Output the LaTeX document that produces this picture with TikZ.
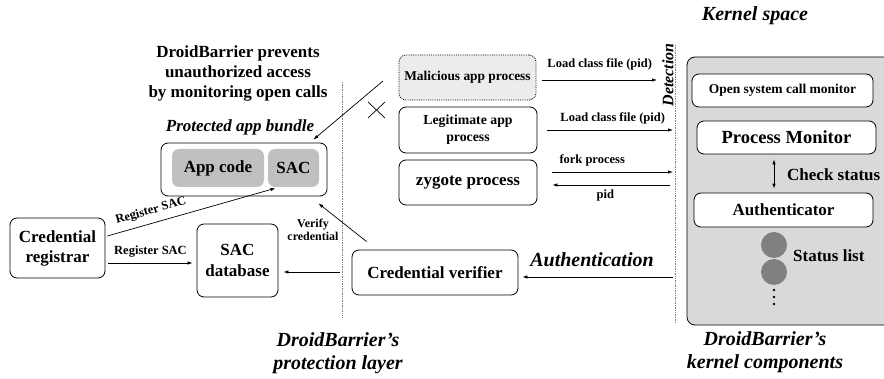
\documentclass[tikz,border=0pt]{standalone}
\usepackage{fontspec}
\setmainfont{Liberation Serif}
\usetikzlibrary{arrows.meta}
\definecolor{kernelgray}{RGB}{217,217,217}
\definecolor{codegray}{RGB}{192,192,192}
\definecolor{malgray}{RGB}{236,236,236}
\definecolor{statgray}{RGB}{128,128,128}
\newcommand{\pxsize}[1]{\fontsize{#1}{#1}\selectfont}

\begin{document}
\begin{tikzpicture}[x=1pt,y=-1pt,>={Latex[length=5pt,width=3.5pt]}]
\tikzstyle{every node}+=[inner sep=0pt]
\tikzstyle{box}=[draw=black, line width=0.8pt, rounded corners=7pt, align=center, font=\bfseries\pxsize{17}]
\tikzstyle{graybox}=[fill=codegray, rounded corners=7pt, align=center, font=\bfseries\pxsize{17}]
\tikzstyle{lbl}=[font=\bfseries\pxsize{12.5}, align=center]
\tikzstyle{title}=[font=\bfseries\itshape\pxsize{20}, align=center]
\tikzstyle{conn}=[->, line width=0.7pt]
\useasboundingbox (0,0) rectangle (884,379);
% separators
\draw [densely dotted, gray, line width=0.7pt] (342,82) -- (342,317);
\draw [densely dotted, gray, line width=0.7pt] (675,45) -- (675,323);
% protection layer side
\node [font=\bfseries\fontsize{17}{20}\selectfont, align=center] (prevents) at (238,73) {DroidBarrier prevents\\unauthorized access\\by monitoring open calls};
\node [font=\bfseries\itshape\pxsize{17}] (bundletitle) at (240,127) {Protected app bundle};
\node [box, minimum width=166, minimum height=53] (bundle) at (244,169.5) {};
\node [graybox, minimum width=92, minimum height=38] (appcode) at (218,168) {App code};
\node [graybox, minimum width=51, minimum height=38] (sac) at (293.5,168) {SAC};
\node [box, minimum width=95, minimum height=60, font=\bfseries\fontsize{17}{20}\selectfont] (registrar) at (57.5,248) {Credential\\registrar};
\node [box, minimum width=81, minimum height=73, font=\bfseries\fontsize{17}{21}\selectfont] (sacdb) at (237.5,260.5) {SAC\\database};
\node [box, minimum width=166, minimum height=45] (verifier) at (435,272.5) {Credential verifier};
\node [title, font=\bfseries\itshape\fontsize{20}{23}\selectfont] (prottitle) at (338,353) {DroidBarrier's\\protection layer};
% app processes
\node [box, densely dotted, fill=malgray, minimum width=137, minimum height=45, font=\bfseries\pxsize{13.4}] (malicious) at (467.5,77.5) {Malicious app process};
\node [box, minimum width=138, minimum height=46, font=\bfseries\fontsize{13.8}{17}\selectfont] (legit) at (468,130) {Legitimate app\\process};
\node [box, minimum width=138, minimum height=45] (zygote) at (468,182.5) {zygote process};
\draw [line width=0.7pt] (368,102) -- (385,118);
\draw [line width=0.7pt] (385,102) -- (368,118);
% kernel side
\node [title] (kerneltitle) at (755,16) {Kernel space};
\node [font=\bfseries\itshape\pxsize{16}, rotate=90] (detection) at (668,75) {Detection};
\draw [fill=kernelgray, line width=0.8pt, rounded corners=8pt] (687,57) rectangle (900,325);
\node [box, fill=white, minimum width=181, minimum height=33, font=\bfseries\pxsize{13.5}] (oscmon) at (782.5,90.5) {Open system call monitor};
\node [box, fill=white, minimum width=179, minimum height=33, font=\bfseries\pxsize{18.5}] (procmon) at (786.5,137.5) {Process Monitor};
\node [box, fill=white, minimum width=179, minimum height=34] (auth) at (783.5,210) {Authenticator};
\node [circle, fill=statgray, minimum size=26] (stat1) at (774,245) {};
\node [circle, fill=statgray, minimum size=26] (stat2) at (774,272) {};
\foreach \y in {290,297,304}
  \fill (774,\y) circle (1.4);
\node [font=\bfseries\pxsize{17}, anchor=west] (statlist) at (793,256) {Status list};
\node [font=\bfseries\pxsize{17}, anchor=west] (check) at (787,175) {Check status};
\node [title, font=\bfseries\itshape\fontsize{20}{23}\selectfont] (kertitle) at (765,352) {DroidBarrier's\\kernel components};
\node [title] (authlbl) at (592,260) {Authentication};
% free ends at the layer borders
\coordinate (malstart) at (383,81);
\coordinate (malend) at (657,80);
\coordinate (legend) at (673,130);
\coordinate (forkend) at (673,172);
\coordinate (pidstart) at (670,185);
\coordinate (authstart) at (673,277);
\coordinate (dbstart) at (340,272);
% connectors
\draw [conn] ([xshift=6pt,yshift=-2.5pt]malicious.east) -- (malend) node [lbl, midway, above=9pt] {Load class file (pid)};
\draw [conn] ([xshift=10pt]legit.east) -- (legend) node [lbl, pos=0.52, above=5pt] {Load class file (pid)};
\draw [conn] ([xshift=15pt,yshift=10.5pt]zygote.east) -- (forkend) node [lbl, pos=0.33, above=5pt] {fork process};
\draw [conn] (pidstart) -- ([xshift=15pt,yshift=-2.5pt]zygote.east) node [lbl, pos=0.55, below=4pt] {pid};
\draw [conn] (authstart) -- ([xshift=4pt,yshift=-4.5pt]verifier.east);
\draw [conn] (malstart) -- ([xshift=-14pt,yshift=3pt]bundle.north east);
\draw [conn] ([xshift=15pt,yshift=8pt]verifier.north west) -- ([xshift=-9pt,yshift=-7pt]bundle.south east);
\node [lbl, font=\bfseries\fontsize{12}{13}\selectfont] (verifylbl) at (313,229.5) {Verify\\credential};
\draw [conn] (dbstart) -- ([xshift=5pt,yshift=-11.5pt]sacdb.east);
\draw [conn] ([xshift=2pt,yshift=12pt]registrar.east) -- ([xshift=-18pt,yshift=-1pt]sac.south);
\node [lbl, rotate=16] (reglbl) at (151,211) {Register SAC};
\draw [conn] ([xshift=3pt,yshift=-15pt]registrar.east) -- ([xshift=-4pt,yshift=-2.5pt]sacdb.west) node [lbl, midway, above=5pt] {Register SAC};
\draw [<->, line width=0.7pt] ([xshift=-12.5pt,yshift=-5pt]procmon.south) -- ([xshift=-9.5pt,yshift=4pt]auth.north);
\end{tikzpicture}
\end{document}
